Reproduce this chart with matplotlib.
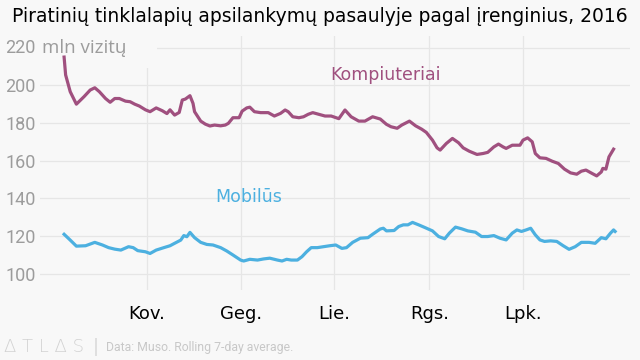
import matplotlib
matplotlib.use("Agg")
import matplotlib.pyplot as plt
import matplotlib.transforms as mtransforms
from matplotlib.patches import Rectangle

# Day of year 2016 (0 = Jan 1) and million visits
kompiuteriai_days = [6, 7, 10, 14, 19, 23, 26, 29, 33, 36, 39, 42, 46, 49, 52, 55, 59, 62, 66, 70,
                     73, 75, 78, 81, 83, 85, 88, 90, 91, 95, 98, 101, 104, 108, 111, 113, 116, 120, 122, 125,
                     127, 130, 134, 139, 143, 147, 150, 152, 155, 159, 162, 165, 168, 172, 176, 180, 185, 189, 193, 198,
                     202, 207, 212, 216, 219, 223, 226, 231, 235, 239, 242, 246, 249, 251, 255, 259, 263, 266, 270, 275,
                     279, 282, 286, 289, 292, 294, 298, 303, 305, 308, 311, 313, 316, 320, 324, 328, 332, 336, 340, 343,
                     346, 350, 353, 356, 357, 359, 361, 364]
kompiuteriai = [215, 205.5, 196.6, 190, 194, 197.5, 198.7, 196.6, 193, 191, 193, 193, 191.6, 191.3, 190, 189, 187, 186, 188, 186.5,
                185, 187, 184.2, 185.6, 192.2, 192.7, 194.5, 190.4, 186, 181, 179.4, 178.4, 178.9, 178.5, 178.9, 179.8, 182.8, 182.8, 186.3, 188,
                188.4, 186, 185.5, 185.5, 183.7, 185.1, 186.9, 186, 183.3, 182.8, 183.3, 184.6, 185.5, 184.6, 183.7, 183.7, 182.3, 186.9, 183.3, 181,
                181, 183.3, 182.1, 179.3, 178, 177.2, 178.9, 181, 178.5, 176.7, 175, 170.9, 166.8, 165.6, 169.1, 171.8, 169.5, 166.8, 165, 163.3,
                163.8, 164.4, 167.3, 168.8, 167.3, 166.5, 168.2, 168.2, 170.9, 172.1, 170, 163.8, 161.5, 161.2, 159.7, 158.5, 155.5, 153.5, 152.8, 154.4,
                155, 153.2, 151.9, 154, 155.9, 155.5, 162, 166.1]

mobilus_days = [6, 10, 14, 20, 26, 31, 35, 39, 43, 48, 51, 54, 59, 62, 66, 71, 75, 78, 82, 84,
                86, 88, 91, 95, 99, 103, 108, 112, 116, 121, 123, 127, 132, 136, 140, 145, 148, 151, 154, 158,
                161, 164, 167, 171, 175, 179, 183, 187, 190, 194, 199, 204, 207, 212, 214, 216, 221, 224, 227, 230,
                233, 237, 241, 246, 250, 254, 257, 261, 265, 269, 274, 278, 282, 286, 290, 294, 298, 301, 304, 307,
                310, 313, 316, 319, 323, 327, 331, 335, 339, 343, 348, 352, 356, 359, 362, 364, 365]
mobilus = [120.9, 117.8, 114.6, 114.8, 116.6, 115.2, 113.8, 113, 112.5, 114.3, 113.8, 112.2, 111.6, 110.7, 112.5, 113.8, 114.8, 116.1, 117.8, 120.2,
           119.6, 121.9, 119.1, 116.6, 115.5, 115.2, 113.8, 112, 109.9, 107.2, 106.7, 107.6, 107.2, 107.8, 108.2, 107.2, 106.7, 107.6, 107.2, 107.2,
           109, 111.6, 113.8, 113.8, 114.3, 114.8, 115.2, 113.4, 113.8, 116.6, 118.8, 119.1, 120.9, 123.7, 124.1, 122.7, 122.9, 125, 125.9, 125.9,
           127.2, 125.9, 124.5, 122.7, 119.7, 118.5, 121.5, 124.7, 123.8, 122.7, 122, 119.7, 119.7, 120.2, 118.8, 117.9, 121.5, 123.2, 122.4, 123.2,
           124.1, 120.6, 117.9, 117.1, 117.4, 117.1, 114.9, 112.9, 114.3, 116.6, 116.6, 116.1, 119.1, 118.5, 121.5, 123.2, 122.4]

month_ticks = [60, 121, 182, 244, 305]
month_labels = ['Kov.', 'Geg.', 'Lie.', 'Rgs.', 'Lpk.']
y_ticks = [100, 120, 140, 160, 180, 200, 220]
y_labels = ['100', '120', '140', '160', '180', '200', '']
top_value = '220'
top_unit = 'mln vizitų'

bg = '#f8f8f8'
purple = '#a0507f'
blue = '#4cb0e0'
gray = '#9c9c9c'

fig = plt.figure(figsize=(6.4, 3.6), dpi=100, facecolor=bg)
ax = fig.add_axes([40 / 640, 1 - 290 / 360, 590 / 640, 254 / 360], facecolor=bg)

ax.plot(kompiuteriai_days, kompiuteriai, color=purple, lw=2.3, solid_joinstyle='round', zorder=3)
ax.plot(mobilus_days, mobilus, color=blue, lw=2.3, solid_joinstyle='round', zorder=3)

ax.set_xlim(-9.7, 374.7)
ax.set_ylim(91.3, 226.2)

ax.set_xticks(month_ticks, month_labels)
ax.set_yticks(y_ticks, y_labels)
ax.set_axisbelow(True)
ax.grid(True, color='#e6e6e6', lw=0.9)
for s in ax.spines.values():
    s.set_visible(False)

ax.tick_params(axis='x', length=0, pad=11, labelsize=13, labelcolor='black')
ax.tick_params(axis='y', length=0, pad=25, labelsize=13, labelcolor=gray)
for lbl in ax.get_yticklabels():
    lbl.set_ha('left')
    lbl.set_fontfamily('Roboto')

# background box behind the top label hides the grid there
ax.add_patch(Rectangle((0, 1 - 68 / 360), 157 / 640, 68 / 360, transform=fig.transFigure,
                       facecolor=bg, edgecolor='none', zorder=1, clip_on=False))
trans = mtransforms.blended_transform_factory(fig.transFigure, ax.transData)
ax.text(5 / 640, 220, top_value, transform=trans, fontsize=13, color=gray, family='Roboto',
        va='center', ha='left', clip_on=False, zorder=1.5)
ax.text(42 / 640, 220, top_unit, transform=trans, fontsize=13.5, color=gray, family='Open Sans',
        va='center', ha='left', clip_on=False, zorder=1.5)

ax.text(179.2, 205.5, 'Kompiuteriai', color=purple, fontsize=12.5, va='center', ha='left')
ax.text(104.3, 140.7, 'Mobilūs', color=blue, fontsize=12.5, va='center', ha='left')

fig.text(12 / 640, 1 - 17 / 360, 'Piratinių tinklalapių apsilankymų pasaulyje pagal įrenginius, 2016',
         fontsize=13.5, va='center', ha='left', color='black')

# footer
fig.text(4 / 640, 1 - 347 / 360, 'Δ T L Δ S', fontsize=13, color='#d2d2d2', va='center', ha='left',
         fontweight='light')
fig.text(93 / 640, 1 - 347 / 360, '|', fontsize=13, color='#d8d8d8', va='center', ha='left')
fig.text(106 / 640, 1 - 347 / 360, 'Data: Muso. Rolling 7-day average.', fontsize=8.8, color='#c8c8c8',
         va='center', ha='left', fontfamily='Roboto')

fig.savefig('out.png', dpi=100, facecolor=bg)
